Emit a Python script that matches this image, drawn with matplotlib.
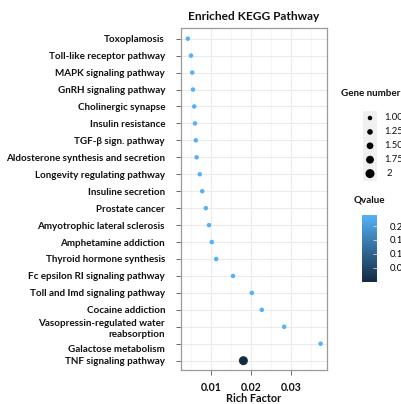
import numpy as np
import matplotlib.pyplot as plt
from matplotlib.colors import LinearSegmentedColormap, Normalize

# pathways, top to bottom as in the chart
pathways = ["Toxoplamosis", "Toll-like receptor pathway", "MAPK signaling pathway",
            "GnRH signaling pathway", "Cholinergic synapse", "Insulin resistance",
            "TGF-\u03b2 sign. pathway", "Aldosterone synthesis and secretion",
            "Longevity regulating pathway", "Insuline secretion", "Prostate cancer",
            "Amyotrophic lateral sclerosis", "Amphetamine addiction",
            "Thyroid hormone synthesis", "Fc epsilon RI signaling pathway",
            "Toll and Imd signaling pathway", "Cocaine addiction",
            "Vasopressin-regulated water\nreabsorption", "Galactose metabolism",
            "TNF signaling pathway"]
rich = [0.0042, 0.0050, 0.0053, 0.0055, 0.0058, 0.0060, 0.0062, 0.0064, 0.0072,
        0.0078, 0.0087, 0.0095, 0.0102, 0.0113, 0.0155, 0.0202, 0.0227, 0.0283,
        0.0374, 0.0181]
genes = [1] * 19 + [2]
qvalue = [0.24] * 19 + [0.0005]

legend_genes = [1.00, 1.25, 1.50, 1.75, 2]
legend_labels = ["1.00", "1.25", "1.50", "1.75", "2"]
q_ticks = [0.05, 0.10, 0.15, 0.20]
q_ticklabels = ["0.05", "0.10", "0.15", "0.20"]

plt.rcParams['font.family'] = ['Lato', 'DejaVu Sans']
FW = 'bold'
TXT = '#111111'

cmap = LinearSegmentedColormap.from_list("q", ["#132B43", "#56B1F7"])
norm = Normalize(0.0, 0.24)

def size_of(g):
    d_px = 4.5 + (np.asarray(g, dtype=float) - 1) * 4.5
    return (d_px * 0.72) ** 2

W, H = 402, 404
fig = plt.figure(figsize=(W / 100, H / 100), dpi=100)
ax = fig.add_axes([181 / W, 1 - 370 / H, 146 / W, 342 / H])

n = len(pathways)
ypos = np.arange(n)[::-1]
ax.scatter(rich, ypos, s=size_of(genes), c=qvalue, cmap=cmap, norm=norm,
           linewidths=0, zorder=3)

ax.set_xlim(0.0025, 0.039)
ax.set_ylim(-0.55, n - 1 + 0.63)
ax.set_xticks([0.01, 0.02, 0.03])
ax.set_xticklabels(["0.01", "0.02", "0.03"])
ax.set_xticks([0.005, 0.015, 0.025, 0.035], minor=True)
ax.set_yticks(ypos)
# galactose label sits a bit below its row in the original, draw it by hand
shifted = "Galactose metabolism"
ax.set_yticklabels(["" if p == shifted else p for p in pathways], fontsize=7.1,
                   fontweight=FW, color=TXT, linespacing=1.25)
gi = pathways.index(shifted)
ax.annotate(shifted, xy=(0, ypos[gi]), xycoords=ax.get_yaxis_transform(),
            xytext=(-11.5, -4), textcoords='offset points', ha='right', va='center',
            fontsize=7.1, fontweight=FW, color=TXT, annotation_clip=False)
for lab in ax.get_xticklabels():
    lab.set_fontweight(FW)
    lab.set_fontsize(7.6)
    lab.set_color(TXT)
ax.grid(which='major', color='#ebebeb', linewidth=0.8, zorder=0)
ax.grid(which='minor', axis='x', color='#f4f4f4', linewidth=0.5, zorder=0)
ax.tick_params(which='major', length=3.5, color='#333333', width=0.5, pad=5)
ax.tick_params(axis='y', pad=8)
ax.tick_params(which='minor', length=0)
for sp in ax.spines.values():
    sp.set_color('#9a9a9a')
    sp.set_linewidth(0.9)
ax.set_xlabel("Rich Factor", fontsize=7.8, fontweight=FW, color=TXT, labelpad=0)
ax.set_title("Enriched KEGG Pathway", fontsize=8.6, fontweight=FW, color=TXT, pad=6)

# gene number legend
lax = fig.add_axes([0, 0, 1, 1])
lax.set_xlim(0, W)
lax.set_ylim(H, 0)
lax.axis('off')
lax.text(341, 93, "Gene number", fontsize=7.1, fontweight=FW, color=TXT, va='center')
key_y = 118 + np.arange(len(legend_genes)) * 13.9
lax.scatter([370] * len(key_y), key_y, s=(13.5 * 0.72) ** 2, marker='s',
            color='#f0f0f0', linewidths=0)
lax.scatter([370] * len(key_y), key_y, s=size_of(legend_genes), color='black',
            linewidths=0)
for yy, t in zip(key_y, legend_labels):
    lax.text(384 if t != "2" else 387, yy, t, fontsize=6.8, color=TXT, va='center')
lax.text(354, 200, "Qvalue", fontsize=7.1, fontweight=FW, color=TXT, va='center')

# colorbar
cax = fig.add_axes([362 / W, 1 - 281.5 / H, 15 / W, 66.5 / H])
sm = plt.cm.ScalarMappable(norm=norm, cmap=cmap)
cb = fig.colorbar(sm, cax=cax, ticks=q_ticks)
cb.set_ticklabels(q_ticklabels)
cb.outline.set_visible(False)
cax.tick_params(length=3, color='#dddddd', width=0.6, direction='in',
                labelsize=6.8, pad=9)

fig.savefig("out.png", dpi=100)
